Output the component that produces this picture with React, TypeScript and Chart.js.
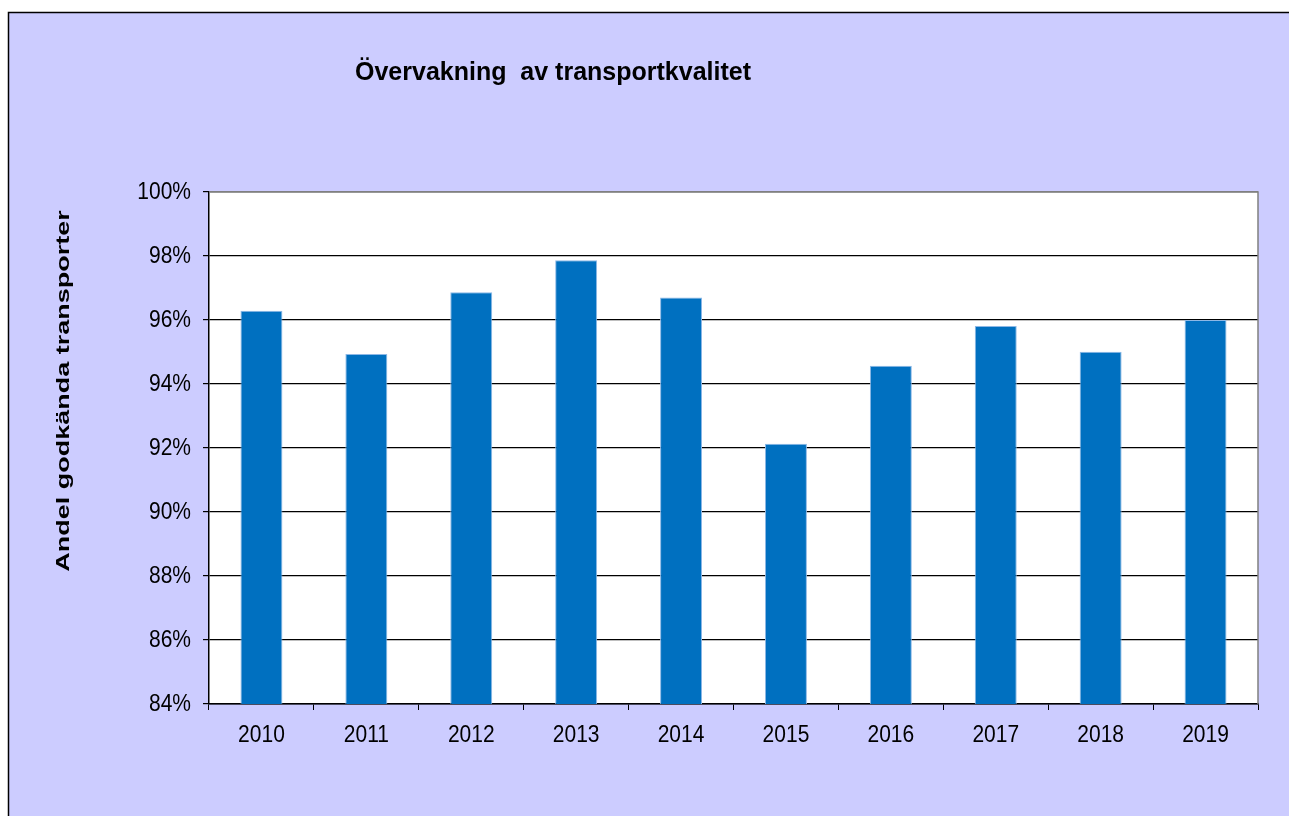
import React, { useEffect, useRef } from "react";
import { Chart, registerables } from "chart.js";

Chart.register(...registerables);

const years = ["2010", "2011", "2012", "2013", "2014", "2015", "2016", "2017", "2018", "2019"];
const approvedShare = [96.29, 94.94, 96.87, 97.87, 96.7, 92.13, 94.57, 95.81, 95.01, 96.0];
const yMin = 84;
const yMax = 100;
const yStep = 2;
const titleText = "Övervakning  av transportkvalitet";
const yTitleText = "Andel godkända transporter";

const W = 1289;
const H = 816;
const FONT = "'Liberation Sans', Arial, sans-serif";

export default function App() {
  const ref = useRef<HTMLCanvasElement | null>(null);

  useEffect(() => {
    const canvas = ref.current;
    if (!canvas) return;

    const drawStretched = (ctx: any, text: string, x: number, y: number, sy: number) => {
      ctx.save();
      ctx.translate(x, y);
      ctx.scale(1, sy);
      ctx.fillText(text, 0, 0);
      ctx.restore();
    };

    const bgPlugin = {
      id: "bgPlugin",
      beforeDraw(chart: any) {
        const ctx = chart.ctx;
        const ca = chart.chartArea;
        ctx.save();
        ctx.fillStyle = "#ffffff";
        ctx.fillRect(0, 0, W, H);
        ctx.fillStyle = "#CCCCFF";
        ctx.fillRect(8, 12, W - 8, H - 12);
        ctx.strokeStyle = "#000000";
        ctx.lineWidth = 1.5;
        ctx.beginPath();
        ctx.moveTo(8.5, H);
        ctx.lineTo(8.5, 12.5);
        ctx.lineTo(W, 12.5);
        ctx.stroke();
        ctx.fillStyle = "#ffffff";
        ctx.fillRect(ca.left, ca.top, ca.right - ca.left, ca.bottom - ca.top);
        ctx.restore();
      },
      afterDraw(chart: any) {
        const ctx = chart.ctx;
        const ca = chart.chartArea;
        ctx.save();
        ctx.strokeStyle = "#808080";
        ctx.lineWidth = 1.5;
        ctx.beginPath();
        ctx.moveTo(ca.left, ca.top);
        ctx.lineTo(ca.right, ca.top);
        ctx.lineTo(ca.right, ca.bottom);
        ctx.stroke();

        ctx.fillStyle = "#000000";

        // tick labels (slightly tall glyphs like the reference)
        ctx.font = `21px ${FONT}`;
        const ys = chart.scales.y;
        ctx.textAlign = "right";
        ctx.textBaseline = "middle";
        ys.ticks.forEach((t: any, i: number) => {
          drawStretched(ctx, t.value + "%", ca.left - 18, ys.getPixelForTick(i), 1.18);
        });
        const xs = chart.scales.x;
        ctx.textAlign = "center";
        xs.ticks.forEach((t: any, i: number) => {
          drawStretched(ctx, String(chart.data.labels[i]), xs.getPixelForTick(i), ca.bottom + 31, 1.18);
        });

        ctx.font = `bold 25px ${FONT}`;
        ctx.textAlign = "left";
        ctx.textBaseline = "alphabetic";
        ctx.fillText(titleText, 355, 80);

        ctx.translate(64, 391);
        ctx.rotate(-Math.PI / 2);
        ctx.scale(1.42, 1);
        ctx.font = `bold 19px ${FONT}`;
        ctx.textAlign = "center";
        ctx.textBaseline = "middle";
        ctx.fillText(yTitleText, 0, 0);
        ctx.restore();
      },
    };

    const chart = new Chart(canvas, {
      type: "bar",
      data: {
        labels: years,
        datasets: [
          {
            data: approvedShare,
            backgroundColor: "#0070C0",
            borderColor: "#8DB8E6",
            borderWidth: 1,
            barPercentage: 0.4,
            categoryPercentage: 1,
          },
        ],
      },
      options: {
        responsive: false,
        animation: false,
        layout: { padding: { left: 0, top: 192, right: 31, bottom: 0 } },
        plugins: {
          legend: { display: false },
          title: { display: false },
          tooltip: { enabled: false },
        },
        scales: {
          x: {
            type: "category",
            offset: true,
            grid: {
              offset: true,
              drawOnChartArea: false,
              drawTicks: true,
              tickLength: 6,
              color: "#000000",
              lineWidth: 1,
            },
            border: { color: "#000000", width: 1.5 },
            ticks: {
              color: "rgba(0,0,0,0)",
              font: { family: FONT, size: 21 },
              padding: 12,
              maxRotation: 0,
            },
            afterFit(scale: any) {
              scale.height = 112;
            },
          },
          y: {
            min: yMin,
            max: yMax,
            grid: {
              color: (c: any) => (c.tick && c.tick.value === yMax ? "#808080" : "#000000"),
              tickColor: "#000000",
              tickLength: 6,
              lineWidth: 1.2,
            },
            border: { color: "#000000", width: 1.5 },
            ticks: {
              stepSize: yStep,
              color: "rgba(0,0,0,0)",
              font: { family: FONT, size: 21 },
              padding: 11,
              callback: (v: any) => v + "%",
            },
            afterFit(scale: any) {
              scale.width = 209;
            },
          },
        },
      },
      plugins: [bgPlugin],
    } as any);

    return () => chart.destroy();
  }, []);

  return (
    <div style={{ position: "fixed", left: 0, top: 0, width: W, height: H }}>
      <canvas ref={ref} width={W} height={H} style={{ width: W, height: H, display: "block" }} />
    </div>
  );
}
